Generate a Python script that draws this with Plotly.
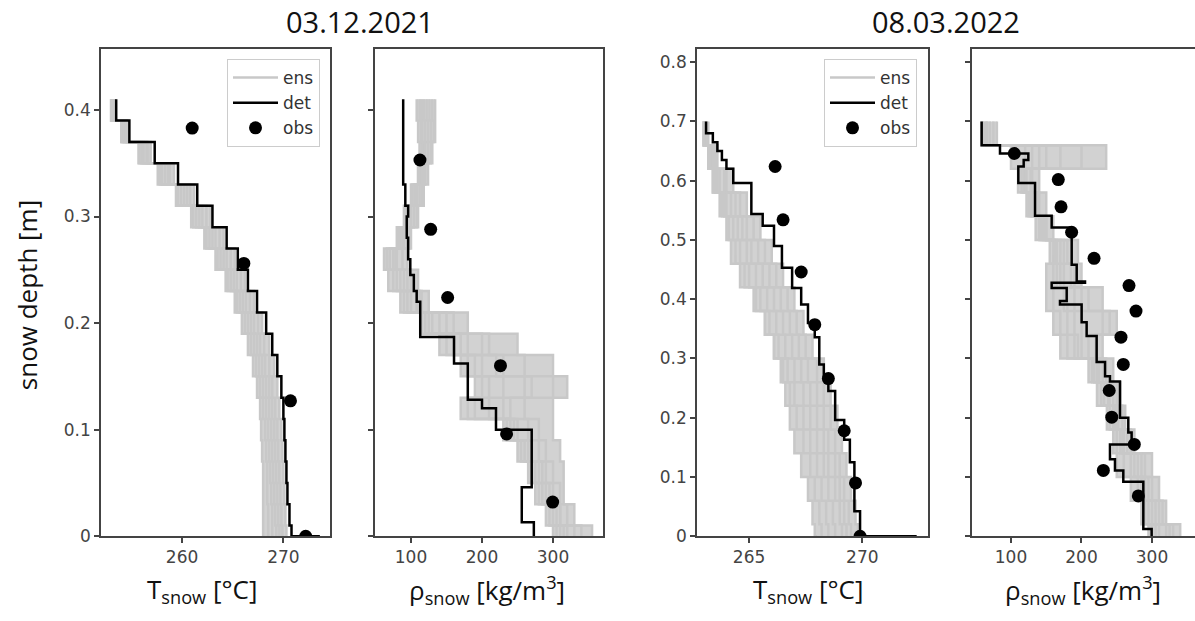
import plotly.graph_objects as go

# ---------------- data ----------------
# Panel 1: T_snow, 03.12.2021
DEPTH_1 = [0.41, 0.39, 0.37, 0.35, 0.33, 0.31, 0.29, 0.27, 0.25, 0.23, 0.21,
           0.19, 0.17, 0.15, 0.13, 0.11, 0.09, 0.07, 0.05, 0.03, 0.01, 0.0]
DET_T1 = [253.5, 254.8, 257.3, 259.6, 261.5, 263.0, 264.4, 265.5, 266.5, 267.4, 268.3,
          268.9, 269.4, 269.8, 270.0, 270.1, 270.2, 270.3, 270.4, 270.6, 270.8, 273.6]
ENS_T1 = [
    [253.2, 254.6, 256.9, 259.2, 261.2, 262.8, 264.1, 265.2, 266.2, 267.1, 267.9, 268.6, 269.1, 269.4, 269.6, 269.8, 269.9, 270.0, 270.1, 270.2, 270.3, 270.4],
    [253.0, 254.3, 256.6, 258.8, 260.8, 262.4, 263.7, 264.8, 265.8, 266.7, 267.5, 268.1, 268.6, 268.9, 269.2, 269.4, 269.5, 269.6, 269.7, 269.8, 269.9, 270.0],
    [253.4, 254.5, 256.5, 258.6, 260.5, 262.0, 263.3, 264.4, 265.4, 266.3, 267.1, 267.7, 268.2, 268.6, 268.9, 269.1, 269.2, 269.3, 269.4, 269.5, 269.6, 269.6],
    [253.1, 254.2, 256.2, 258.3, 260.2, 261.7, 263.0, 264.1, 265.1, 266.0, 266.8, 267.4, 267.9, 268.3, 268.6, 268.8, 268.9, 269.0, 269.1, 269.2, 269.3, 269.3],
    [253.3, 254.1, 256.0, 258.0, 259.9, 261.4, 262.7, 263.8, 264.8, 265.7, 266.5, 267.1, 267.6, 268.0, 268.3, 268.5, 268.6, 268.7, 268.8, 268.9, 268.9, 269.0],
    [253.0, 254.0, 255.8, 257.8, 259.6, 261.1, 262.4, 263.5, 264.5, 265.4, 266.2, 266.8, 267.3, 267.7, 268.0, 268.2, 268.3, 268.4, 268.4, 268.5, 268.5, 268.5],
    [253.2, 254.0, 255.7, 257.6, 259.4, 260.9, 262.2, 263.3, 264.3, 265.2, 265.9, 266.5, 267.0, 267.4, 267.7, 267.8, 267.9, 268.0, 268.0, 268.0, 268.0, 268.0],
]
OBS_T1 = [261.0, 266.1, 270.7, 272.2]
OBS_D1 = [0.383, 0.256, 0.127, 0.0]

# Panel 2: rho_snow, 03.12.2021
DET_R2_D = [0.41, 0.33, 0.31, 0.30, 0.28, 0.26, 0.245, 0.23, 0.22, 0.187, 0.162,
            0.128, 0.12, 0.10, 0.046, 0.013, 0.0]
DET_R2 = [89, 92, 96, 94, 96, 99, 104, 108, 113, 160.6, 180,
          200, 219.7, 270, 256, 273, 273]
ENS_R2 = [
    [108, 110, 112, 110, 105, 95, 85, 70, 80, 95, 120, 150, 170, 200, 190, 240, 260, 275, 285, 300, 310, 310],
    [115, 116, 118, 114, 108, 100, 90, 75, 85, 100, 130, 170, 200, 230, 210, 250, 270, 280, 290, 305, 320, 320],
    [122, 124, 120, 116, 112, 104, 95, 80, 90, 108, 140, 180, 230, 260, 230, 265, 280, 290, 300, 310, 330, 330],
    [130, 132, 128, 120, 115, 108, 98, 88, 100, 115, 160, 210, 260, 300, 260, 280, 290, 300, 310, 320, 355, 355],
    [134, 134, 130, 124, 118, 110, 100, 95, 110, 125, 180, 250, 300, 320, 300, 300, 310, 315, 315, 330, 340, 340],
    [112, 114, 115, 112, 102, 90, 80, 62, 68, 85, 115, 160, 190, 210, 170, 230, 250, 265, 275, 290, 300, 300],
    [118, 120, 116, 110, 100, 92, 82, 66, 75, 90, 125, 140, 180, 190, 180, 245, 255, 270, 280, 295, 305, 305],
    [126, 128, 124, 118, 106, 96, 88, 78, 95, 112, 150, 200, 220, 270, 240, 235, 265, 285, 295, 310, 315, 315],
]
OBS_R2 = [112.6, 127.7, 151.6, 226, 234.6, 299.5]
OBS_D2 = [0.353, 0.288, 0.224, 0.16, 0.096, 0.032]

# Panel 3: T_snow, 08.03.2022
DEPTH_3 = [0.70, 0.66, 0.62, 0.58, 0.54, 0.50, 0.46, 0.42, 0.38, 0.34,
           0.30, 0.26, 0.22, 0.18, 0.14, 0.10, 0.06, 0.02, 0.0]
DET_T3_D = [0.70, 0.68, 0.665, 0.65, 0.635, 0.62, 0.596, 0.544, 0.524, 0.49, 0.453, 0.419,
            0.391, 0.36, 0.336, 0.29, 0.27, 0.245, 0.196, 0.163, 0.125, 0.042, 0.0]
DET_T3 = [263.1, 263.4, 263.6, 263.8, 264.0, 264.3, 265.1, 265.6, 266.1, 266.45, 266.9, 267.3,
          267.6, 267.9, 268.1, 268.3, 268.5, 268.8, 269.2, 269.45, 269.65, 269.9, 272.4]
ENS_T3 = [
    [263.2, 263.6, 264.3, 264.9, 265.5, 266.0, 266.5, 267.0, 267.4, 267.8, 268.3, 268.6, 268.9, 269.1, 269.3, 269.5, 269.7, 269.8, 269.8],
    [263.1, 263.5, 264.0, 264.6, 265.2, 265.7, 266.2, 266.7, 267.1, 267.5, 268.0, 268.3, 268.6, 268.8, 269.0, 269.2, 269.4, 269.5, 269.5],
    [263.0, 263.4, 263.9, 264.4, 264.9, 265.4, 265.9, 266.4, 266.8, 267.2, 267.6, 268.0, 268.3, 268.5, 268.8, 269.0, 269.2, 269.3, 269.3],
    [263.1, 263.3, 263.7, 264.2, 264.7, 265.1, 265.6, 266.1, 266.5, 266.9, 267.3, 267.7, 268.0, 268.3, 268.5, 268.8, 269.0, 269.1, 269.1],
    [263.0, 263.3, 263.6, 264.0, 264.5, 264.9, 265.3, 265.8, 266.2, 266.6, 267.0, 267.4, 267.7, 268.0, 268.3, 268.5, 268.7, 268.8, 268.8],
    [263.0, 263.2, 263.5, 263.9, 264.3, 264.6, 265.0, 265.5, 265.9, 266.3, 266.7, 267.0, 267.4, 267.7, 268.0, 268.2, 268.4, 268.5, 268.5],
    [263.0, 263.2, 263.4, 263.8, 264.1, 264.4, 264.8, 265.3, 265.7, 266.1, 266.5, 266.8, 267.1, 267.4, 267.7, 267.9, 268.1, 268.2, 268.2],
    [263.0, 263.2, 263.4, 263.7, 264.0, 264.2, 264.6, 265.2, 265.7, 266.1, 266.4, 266.6, 266.8, 267.0, 267.3, 267.6, 267.8, 267.9, 268.0],
]
OBS_T3 = [266.15, 266.5, 267.3, 267.9, 268.5, 269.2, 269.7, 269.9]
OBS_D3 = [0.624, 0.534, 0.446, 0.357, 0.266, 0.178, 0.09, 0.0]

# Panel 4: rho_snow, 08.03.2022
DET_R4_D = [0.70, 0.66, 0.646, 0.635, 0.624, 0.596, 0.541, 0.521, 0.458, 0.43, 0.428, 0.419,
            0.397, 0.391, 0.361, 0.338, 0.294, 0.27, 0.261, 0.20, 0.175, 0.155, 0.13,
            0.111, 0.092, 0.012, 0.0]
DET_R4 = [58.4, 84.4, 124.6, 118, 110.4, 134.1, 157.7, 186.1, 193.2, 205, 157.7, 179,
          169.5, 200.2, 207.3, 221.5, 233.4, 240.4, 254.6, 266.4, 271.1, 240.4, 247.5,
          259.3, 287.7, 299.5, 299.5]
ENS_R4 = [
    [75, 235, 140, 150, 160, 195, 200, 230, 250, 230, 245, 255, 262, 275, 300, 310, 320, 330, 330],
    [65, 150, 130, 140, 150, 180, 190, 210, 240, 220, 235, 250, 258, 270, 290, 300, 315, 325, 325],
    [60, 120, 120, 130, 145, 170, 175, 200, 230, 210, 230, 245, 252, 265, 285, 295, 310, 320, 320],
    [80, 200, 115, 125, 140, 160, 165, 190, 200, 200, 222, 238, 248, 260, 280, 290, 300, 310, 310],
    [62, 100, 110, 122, 135, 155, 160, 180, 190, 195, 218, 232, 245, 255, 275, 285, 295, 305, 305],
    [70, 170, 128, 138, 150, 175, 185, 160, 170, 180, 215, 228, 240, 250, 250, 280, 290, 300, 300],
    [58, 140, 122, 135, 148, 165, 150, 150, 160, 170, 210, 222, 236, 245, 260, 270, 285, 295, 295],
    [66, 130, 118, 128, 142, 162, 170, 175, 180, 190, 225, 240, 250, 258, 270, 290, 305, 340, 340],
]
OBS_R4 = [104.7, 167.1, 171, 186, 217.8, 267.4, 277.3, 256, 259.3, 239.3, 242.9, 274.9, 231, 280.6]
OBS_D4 = [0.646, 0.602, 0.556, 0.513, 0.469, 0.423, 0.38, 0.336, 0.29, 0.246, 0.201, 0.155, 0.111, 0.068]

TITLES = ["03.12.2021", "08.03.2022"]

# ---------------- styling ----------------
W, H = 1195, 621
ENS_COLOR = "#c8c8c8"
FILL_COLOR = "#d2d2d2"
AX_COLOR = "#444444"
TICK_FONT = dict(family="DejaVu Sans", size=17, color="#444444")
LABEL_FONT = dict(family="Open Sans", size=26, color="#111111")

fig = go.Figure()


def add_panel(idx, depth, ens_list, det_x, det_d, obs_x, obs_d, legend=None, band=True):
    xa = "x" if idx == 1 else f"x{idx}"
    ya = "y" if idx == 1 else f"y{idx}"
    lg = legend or "legend"
    if band:
        env_min = [min(col) for col in zip(*ens_list)]
        env_max = [max(col) for col in zip(*ens_list)]
        fig.add_trace(go.Scatter(
            x=env_min, y=depth, mode="lines", line_shape="vh",
            line=dict(color=FILL_COLOR, width=0), showlegend=False,
            legend=lg, xaxis=xa, yaxis=ya, hoverinfo="skip"))
        fig.add_trace(go.Scatter(
            x=env_max, y=depth, mode="lines", line_shape="vh",
            line=dict(color=FILL_COLOR, width=0), fill="tonextx",
            fillcolor=FILL_COLOR, showlegend=False,
            legend=lg, xaxis=xa, yaxis=ya, hoverinfo="skip"))
    for k, member in enumerate(ens_list):
        fig.add_trace(go.Scatter(
            x=member, y=depth, mode="lines", line_shape="vh",
            line=dict(color=ENS_COLOR, width=2.5), name="ens",
            legend=lg, legendgroup=f"ens{idx}",
            showlegend=(legend is not None and k == 0),
            xaxis=xa, yaxis=ya, hoverinfo="skip"))
    fig.add_trace(go.Scatter(
        x=det_x, y=det_d, mode="lines", line_shape="vh",
        line=dict(color="black", width=2.5), name="det",
        legend=lg, showlegend=legend is not None,
        xaxis=xa, yaxis=ya))
    fig.add_trace(go.Scatter(
        x=obs_x, y=obs_d, mode="markers",
        marker=dict(color="black", size=13), name="obs",
        legend=lg, showlegend=legend is not None,
        xaxis=xa, yaxis=ya))


add_panel(1, DEPTH_1, ENS_T1, DET_T1, DEPTH_1, OBS_T1, OBS_D1, legend="legend")
add_panel(2, DEPTH_1, ENS_R2, DET_R2, DET_R2_D, OBS_R2, OBS_D2)
add_panel(3, DEPTH_3, ENS_T3, DET_T3, DET_T3_D, OBS_T3, OBS_D3, legend="legend2")
add_panel(4, DEPTH_3, ENS_R4, DET_R4, DET_R4_D, OBS_R4, OBS_D4)

# pixel geometry
top_px, bot_px = 50, 545
ydom = [(H - bot_px) / H, (H - top_px) / H]
panels_px = [(101, 330), (375, 603), (697, 928), (972, 1195)]
xranges = [[252.0, 274.6], [49.3, 370.4], [262.7, 272.9], [44.7, 361.0]]
xticks = [[260, 270], [100, 200, 300], [265, 270], [100, 200, 300]]
yranges = [[0, 0.457], [0, 0.457], [0, 0.822], [0, 0.822]]
yticks = [[0, 0.1, 0.2, 0.3, 0.4], [0, 0.1, 0.2, 0.3, 0.4],
          [0, 0.1, 0.2, 0.3, 0.4, 0.5, 0.6, 0.7, 0.8],
          [0, 0.1, 0.2, 0.3, 0.4, 0.5, 0.6, 0.7, 0.8]]

layout = dict(
    width=W, height=H, margin=dict(l=0, r=0, t=0, b=0),
    paper_bgcolor="white", plot_bgcolor="white",
)
for i in range(4):
    n = "" if i == 0 else str(i + 1)
    x0, x1 = panels_px[i]
    layout[f"xaxis{n}"] = dict(
        domain=[x0 / W, min(x1 / W, 1.0)], range=xranges[i], anchor=f"y{n}",
        tickmode="array", tickvals=xticks[i], ticks="outside", ticklen=5,
        tickwidth=1.5, tickcolor=AX_COLOR, showline=True, linecolor=AX_COLOR,
        linewidth=1.5, mirror=True, showgrid=False, zeroline=False,
        tickfont=TICK_FONT)
    layout[f"yaxis{n}"] = dict(
        domain=ydom, range=yranges[i], anchor=f"x{n}",
        tickmode="array", tickvals=yticks[i], ticks="outside", ticklen=5,
        tickwidth=1.5, tickcolor=AX_COLOR, showline=True, linecolor=AX_COLOR,
        linewidth=1.5, mirror=(i != 3), showgrid=False, zeroline=False,
        showticklabels=(i in (0, 2)), tickfont=TICK_FONT)

leg_common = dict(
    xanchor="right", yanchor="top", bgcolor="rgba(255,255,255,0.9)",
    bordercolor="#cccccc", borderwidth=1,
    font=dict(family="DejaVu Sans", size=17, color="#333333"),
    tracegroupgap=0, itemwidth=45)
layout["legend"] = dict(x=320 / W, y=(H - 60) / H, **leg_common)
layout["legend2"] = dict(x=917 / W, y=(H - 60) / H, **leg_common)

annotations = [
    dict(text=TITLES[0], x=360 / W, y=(H - 22) / H, xref="paper", yref="paper",
         showarrow=False, font=dict(family="Open Sans", size=29, color="#111111"),
         xanchor="center", yanchor="middle"),
    dict(text=TITLES[1], x=946 / W, y=(H - 22) / H, xref="paper", yref="paper",
         showarrow=False, font=dict(family="Open Sans", size=29, color="#111111"),
         xanchor="center", yanchor="middle"),
    dict(text="snow depth [m]", x=27 / W, y=(H - 300) / H, xref="paper", yref="paper",
         showarrow=False, textangle=-90, font=LABEL_FONT,
         xanchor="center", yanchor="middle"),
]
xlabels = ["T<sub>snow</sub> [°C]", "ρ<sub>snow</sub> [kg/m<sup>3</sup>]",
           "T<sub>snow</sub> [°C]", "ρ<sub>snow</sub> [kg/m<sup>3</sup>]"]
xlabel_cx = [202, 487, 808, 1083]
for lab, cx in zip(xlabels, xlabel_cx):
    annotations.append(dict(text=lab, x=cx / W, y=(H - 600) / H, xref="paper",
                            yref="paper", showarrow=False, font=LABEL_FONT,
                            xanchor="center", yanchor="middle"))
layout["annotations"] = annotations

fig.update_layout(**layout)
fig.write_html("out.html")
